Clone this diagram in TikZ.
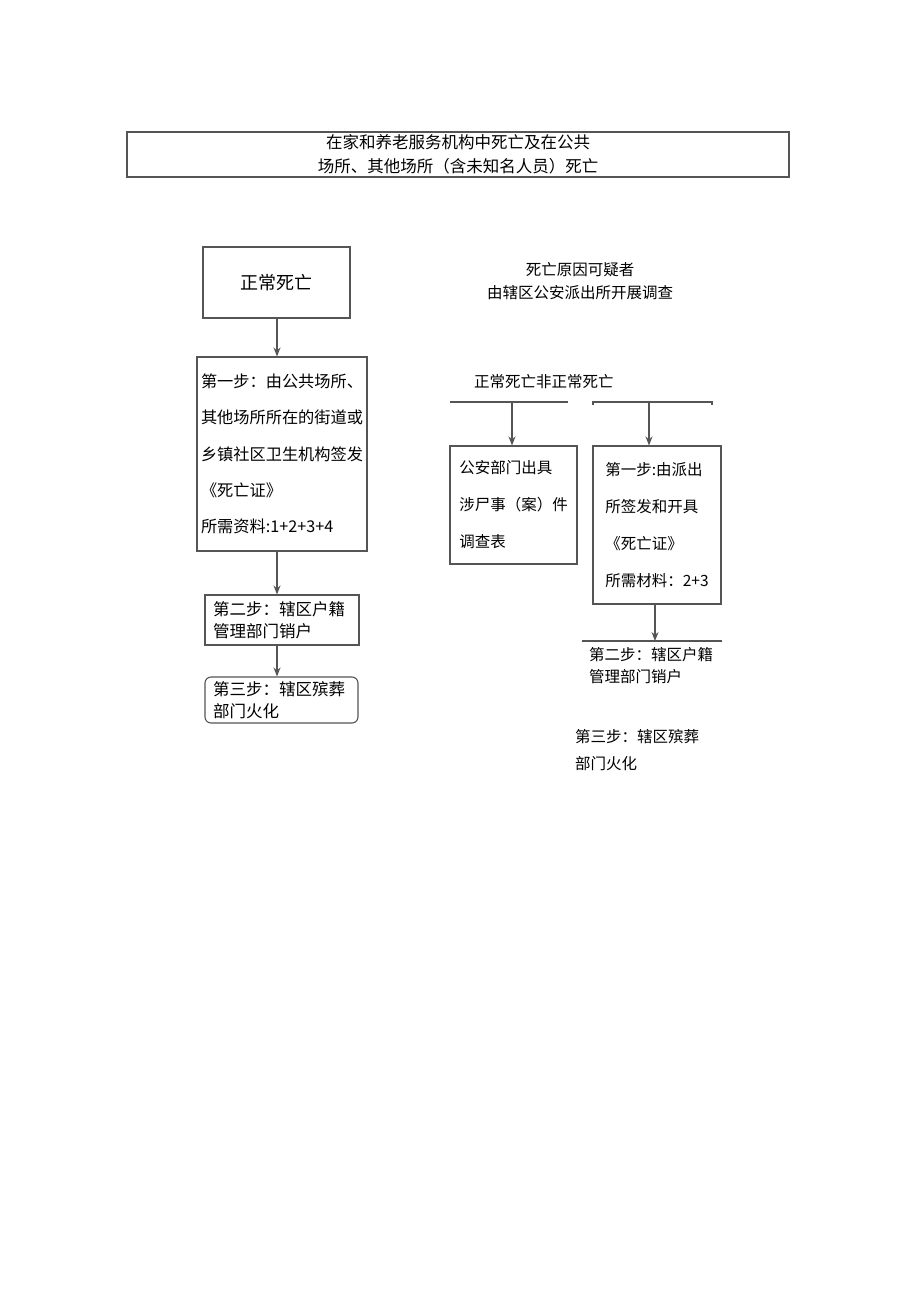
\documentclass[tikz,border=0pt]{standalone}
\usepackage{fontspec}
\setmainfont{Noto Sans CJK SC}
\usetikzlibrary{arrows.meta,calc}
\definecolor{lc}{HTML}{555555}
\begin{document}
\begin{tikzpicture}[x=1pt,y=-1pt,
  box/.style={draw=lc,line width=1.1pt,inner sep=0pt,align=left,text=black},
  arr/.style={draw=lc,line width=1.2pt,-{Stealth[length=9pt,width=7pt]}},
  bar/.style={draw=lc,line width=1.1pt},
  lbl/.style={inner sep=0pt,align=left,text=black}]
\useasboundingbox (0,0) rectangle (920,1301);
\fill[white] (0,0) rectangle (920,1301);
% top box
\node[box,align=center,minimum width=662pt,minimum height=45pt,
  font=\fontsize{16.5}{24}\selectfont] (top) at (458,154.5)
  {在家和养老服务机构中死亡及在公共\\场所、其他场所（含未知名人员）死亡};
% left column
\node[box,minimum width=147pt,minimum height=71pt,font=\fontsize{18}{22}\selectfont] (normal) at (276.5,282.5) {正常死亡};
\node[box,minimum width=170pt,minimum height=194pt,font=\fontsize{16.2}{36.2}\selectfont] (s1) at (282,454)
  {第一步：由公共场所、\\其他场所所在的街道或\\乡镇社区卫生机构签发\\《死亡证》\\所需资料:1+2+3+4};
\node[box,minimum width=154pt,minimum height=50pt,inner xsep=8pt,font=\fontsize{16.5}{22}\selectfont,
  text width=138pt] (s2) at (282,620)
  {第二步：辖区户籍\\管理部门销户};
\node[box,rounded corners=6pt,minimum width=153pt,minimum height=46pt,inner xsep=8pt,font=\fontsize{16.5}{22}\selectfont,
  text width=137pt] (s3) at (281.5,700)
  {第三步：辖区殡葬\\部门火化};
\coordinate (c1) at (277,318);
\coordinate (c2) at (277,551);
\coordinate (c3) at (277,645);
\draw[arr] (c1) -- (c1 |- s1.north);
\draw[arr] (c2) -- (c2 |- s2.north);
\draw[arr] (c3) -- (c3 |- s3.north);
% right column
\node[lbl,align=center,font=\fontsize{15.5}{23}\selectfont] (susp) at (580,281.5)
  {死亡原因可疑者\\由辖区公安派出所开展调查};
\node[lbl,anchor=west,font=\fontsize{15.5}{20}\selectfont] (split) at (474,382) {正常死亡非正常死亡};
\coordinate (l1a) at (450,402);
\coordinate (l1b) at (568,402);
\coordinate (l2a) at (593,402);
\coordinate (l2b) at (712,402);
\draw[bar] (l1a) -- (l1b);
\draw[bar] ($(l2a)+(0,3)$) -- (l2a) -- (l2b) -- ($(l2b)+(0,3)$);
\node[box,minimum width=127pt,minimum height=118pt,font=\fontsize{15.5}{37}\selectfont] (pa) at (513.5,505)
  {公安部门出具\\涉尸事（案）件\\调查表};
\node[box,minimum width=128pt,minimum height=158pt,font=\fontsize{15.5}{37}\selectfont] (pb) at (657,525)
  {第一步:由派出\\所签发和开具\\《死亡证》\\所需材料：2+3};
\coordinate (h1) at (512,402);
\coordinate (h2) at (649,402);
\draw[arr] (h1) -- (h1 |- pa.north);
\draw[arr] (h2) -- (h2 |- pb.north);
\coordinate (l3a) at (582,641);
\coordinate (l3b) at (722,641);
\draw[bar] (l3a) -- (l3b);
\coordinate (h3) at (655,604);
\draw[arr] (h3 |- pb.south) -- (h3 |- l3a);
\node[lbl,anchor=west,font=\fontsize{15.5}{22}\selectfont] (r2) at (589,666)
  {第二步：辖区户籍\\管理部门销户};
\node[lbl,anchor=west,font=\fontsize{15.5}{27}\selectfont] (r3) at (575,750.5)
  {第三步：辖区殡葬\\部门火化};
\end{tikzpicture}
\end{document}
